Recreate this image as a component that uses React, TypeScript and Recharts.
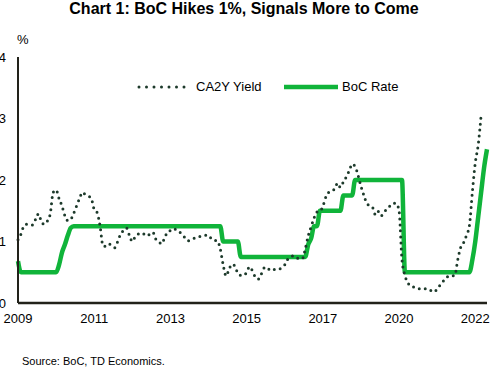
import React from 'react';
import { LineChart, Line, XAxis, YAxis, Legend } from 'recharts';

// monthly, starting March 2009
const START_YEAR = 2009;
const START_MONTH = 3;

const ca2yYield: (number | null)[] = [
  1.03, 1.12, 1.25, 1.28, 1.28, 1.27, 1.36, 1.45, 1.32, 1.28,
  1.33, 1.45, 1.8, 1.84, 1.7, 1.58, 1.42, 1.34, 1.36, 1.46,
  1.58, 1.7, 1.8, 1.76, 1.74, 1.7, 1.52, 1.47, 1.25, 0.93,
  0.92, 0.96, 0.93, 0.9, 1.0, 1.12, 1.18, 1.22, 1.1, 1.0,
  1.08, 1.12, 1.14, 1.12, 1.09, 1.12, 1.15, 1.04, 1.0, 0.96,
  1.06, 1.15, 1.18, 1.21, 1.19, 1.16, 1.11, 1.06, 1.01, 1.03,
  1.05, 1.07, 1.08, 1.09, 1.1, 1.1, 1.04, 1.02, 1.01, 0.88,
  0.62, 0.44, 0.55, 0.63, 0.6, 0.48, 0.45, 0.45, 0.5, 0.59,
  0.52, 0.42, 0.39, 0.47, 0.57, 0.58, 0.53, 0.54, 0.55, 0.55,
  0.58, 0.62, 0.71, 0.74, 0.77, 0.74, 0.72, 0.72, 0.88, 1.09,
  1.24, 1.38, 1.48, 1.49, 1.57, 1.72, 1.8, 1.83, 1.85, 1.95,
  1.88, 1.97, 2.05, 2.15, 2.26, 2.22, 2.08, 1.9, 1.75, 1.62,
  1.58, 1.55, 1.43, 1.49, 1.42, 1.48, 1.54, 1.58, 1.62, 1.62,
  1.5, 0.7, 0.45, 0.33, 0.28, 0.26, 0.25, 0.23, 0.23, 0.23,
  0.23, 0.2, 0.18, 0.23, 0.29, 0.35, 0.4, 0.44, 0.44, 0.45,
  0.7, 0.9, 0.98, 1.1, 1.26, 1.8, 2.28, 2.57, 3.06, null,
  null,
];

const bocRate: number[] = [
  0.68, 0.5, 0.5, 0.5, 0.5, 0.5, 0.5, 0.5, 0.5, 0.5,
  0.5, 0.5, 0.5, 0.5, 0.62, 0.82, 0.95, 1.1, 1.22, 1.25,
  1.25, 1.25, 1.25, 1.25, 1.25, 1.25, 1.25, 1.25, 1.25, 1.25,
  1.25, 1.25, 1.25, 1.25, 1.25, 1.25, 1.25, 1.25, 1.25, 1.25,
  1.25, 1.25, 1.25, 1.25, 1.25, 1.25, 1.25, 1.25, 1.25, 1.25,
  1.25, 1.25, 1.25, 1.25, 1.25, 1.25, 1.25, 1.25, 1.25, 1.25,
  1.25, 1.25, 1.25, 1.25, 1.25, 1.25, 1.25, 1.25, 1.25, 1.25,
  1.0, 1.0, 1.0, 1.0, 1.0, 1.0, 0.75, 0.75, 0.75, 0.75,
  0.75, 0.75, 0.75, 0.75, 0.75, 0.75, 0.75, 0.75, 0.75, 0.75,
  0.75, 0.75, 0.75, 0.75, 0.75, 0.75, 0.75, 0.75, 0.75, 0.95,
  1.05, 1.25, 1.25, 1.5, 1.5, 1.5, 1.5, 1.5, 1.5, 1.5,
  1.5, 1.75, 1.75, 1.75, 1.75, 2.0, 2.0, 2.0, 2.0, 2.0,
  2.0, 2.0, 2.0, 2.0, 2.0, 2.0, 2.0, 2.0, 2.0, 2.0,
  2.0, 2.0, 0.5, 0.5, 0.5, 0.5, 0.5, 0.5, 0.5, 0.5,
  0.5, 0.5, 0.5, 0.5, 0.5, 0.5, 0.5, 0.5, 0.5, 0.5,
  0.5, 0.5, 0.5, 0.5, 0.5, 0.7, 1.0, 1.4, 1.8, 2.2,
  2.5,
];

const yTicks = [0, 1, 2, 3, 4];

const months = bocRate.map((_, i) => {
  const m = START_MONTH - 1 + i;
  const y = START_YEAR + Math.floor(m / 12);
  return `${y}-${String((m % 12) + 1).padStart(2, '0')}`;
});

const data = months.map((month, i) => ({
  month,
  yield: ca2yYield[i],
  rate: bocRate[i],
}));

const DARK = '#1d3a2b';
const GREEN = '#10b43a';
const AXIS = '#22221a';
const FONT = '"Liberation Sans", Arial, sans-serif';

const LegendBox = () => (
  <div style={{ position: 'relative', width: 270, height: 16, fontFamily: FONT, fontSize: 13, color: '#000' }}>
    <svg style={{ position: 'absolute', left: 0, top: 0 }} width={52} height={16}>
      <line x1={2} y1={8} x2={50} y2={8} stroke={DARK} strokeWidth={3} strokeDasharray="0 7.5" strokeLinecap="round" />
    </svg>
    <span style={{ position: 'absolute', left: 59, top: 0, lineHeight: '16px', whiteSpace: 'nowrap' }}>CA2Y Yield</span>
    <svg style={{ position: 'absolute', left: 146, top: 0 }} width={56} height={16}>
      <line x1={1} y1={8} x2={55} y2={8} stroke={GREEN} strokeWidth={4.5} />
    </svg>
    <span style={{ position: 'absolute', left: 205, top: 0, lineHeight: '16px', whiteSpace: 'nowrap' }}>BoC Rate</span>
  </div>
);

export default function App() {
  return (
    <div style={{ position: 'absolute', left: 0, top: 0, width: 492, height: 375, background: '#fff', fontFamily: FONT }}>
      <div style={{ position: 'absolute', left: 0, top: 0, width: 488, textAlign: 'center', fontSize: 16, fontWeight: 'bold', lineHeight: '17px' }}>
        Chart 1: BoC Hikes 1%, Signals More to Come
      </div>
      <div style={{ position: 'absolute', left: 17, top: 32, fontSize: 13, lineHeight: '16px' }}>%</div>
      <LineChart width={492} height={375} data={data} margin={{ top: 57, right: 5, left: 0, bottom: 0 }}>
        <XAxis
          dataKey="month"
          interval={25}
          height={56}
          tickLine={false}
          tickSize={0}
          tickMargin={11}
          axisLine={{ stroke: AXIS, strokeWidth: 2.5 }}
          tick={{ fill: '#000', fontSize: 13, fontFamily: FONT }}
          tickFormatter={(v: string) => v.slice(0, 4)}
        />
        <YAxis
          domain={[0, 4]}
          ticks={yTicks}
          width={18}
          tickLine={false}
          tickSize={0}
          tickMargin={12}
          axisLine={{ stroke: AXIS, strokeWidth: 2 }}
          tick={{ fill: '#000', fontSize: 13, fontFamily: FONT }}
        />
        <Legend
          content={<LegendBox />}
          wrapperStyle={{ position: 'absolute', left: 137, top: 79, width: 270 }}
        />
        <Line
          type="monotone"
          dataKey="rate"
          stroke={GREEN}
          strokeWidth={4.5}
          dot={false}
          isAnimationActive={false}
        />
        <Line
          type="monotone"
          dataKey="yield"
          stroke={DARK}
          strokeWidth={3}
          strokeDasharray="0 6"
          strokeLinecap="round"
          dot={false}
          connectNulls={false}
          isAnimationActive={false}
        />
      </LineChart>
      <div style={{ position: 'absolute', left: 22, top: 354, fontSize: 11, lineHeight: '14px' }}>
        Source: BoC, TD Economics.
      </div>
    </div>
  );
}
